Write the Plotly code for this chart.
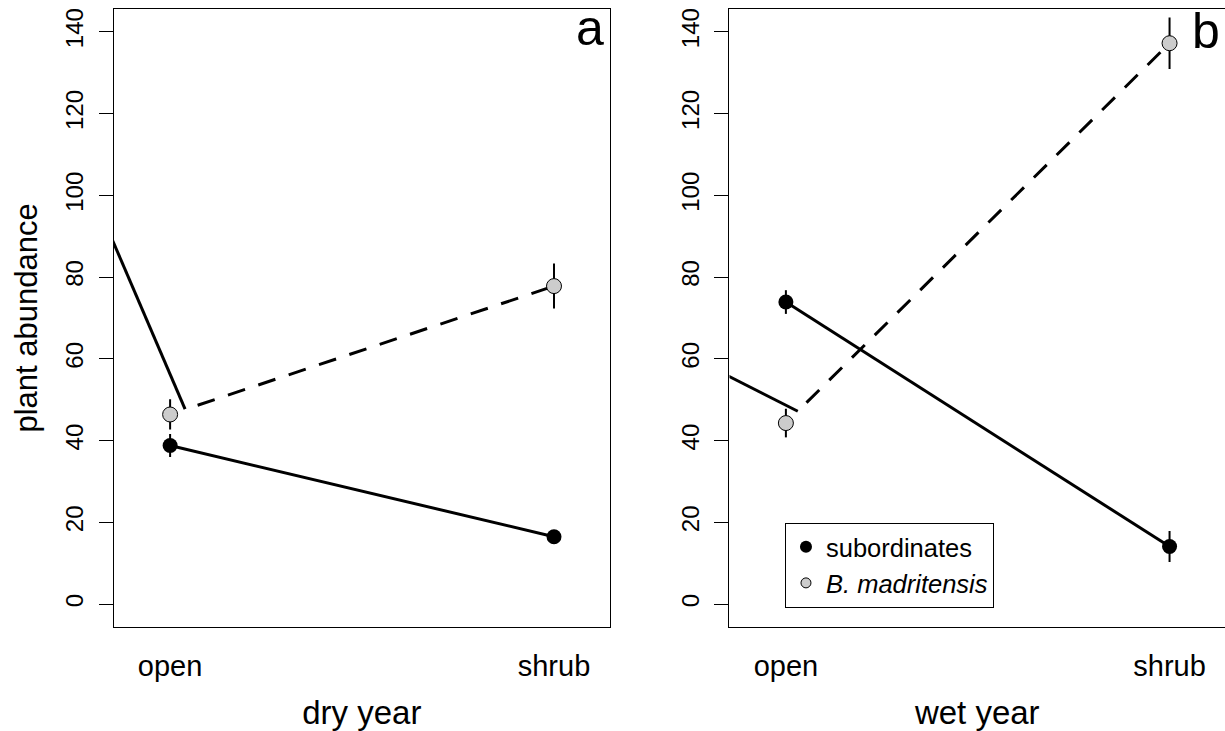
import plotly.graph_objects as go

# ---------------- data ----------------
sites = ["open", "shrub"]
site_pos = [1, 2]
y_ticks = [0, 20, 40, 60, 80, 100, 120, 140]

# dry year (panel a)
dry_sub = [38.8, 16.5]
dry_sub_err = [2.8, 1.5]
dry_bmad = [46.4, 77.8]
dry_bmad_err = [3.7, 5.5]
dry_seg_x = [0.85, 1.039]
dry_seg_y = [89.0, 47.7]

# wet year (panel b)
wet_sub = [73.9, 14.1]
wet_sub_err = [2.9, 3.8]
wet_bmad = [44.3, 137.2]
wet_bmad_err = [3.5, 6.3]
wet_seg_x = [0.85, 1.031]
wet_seg_y = [55.8, 47.2]

series_names = ["subordinates", "<i>B. madritensis</i>"]
panel_titles = ["dry year", "wet year"]
panel_letters = ["a", "b"]

# ---------------- style ----------------
FONT = "Liberation Sans, Arial, Helvetica, sans-serif"
GRAY = "#cccccc"
dash_pattern = "1px,28px," + ",".join(["18px,14px"] * 24)

fig = go.Figure()

panels = [
    (dry_sub, dry_sub_err, dry_bmad, dry_bmad_err, dry_seg_x, dry_seg_y, "x", "y"),
    (wet_sub, wet_sub_err, wet_bmad, wet_bmad_err, wet_seg_x, wet_seg_y, "x2", "y2"),
]

for sub, sub_e, bm, bm_e, sx, sy, xa, ya in panels:
    fig.add_trace(go.Scatter(x=sx, y=sy, mode="lines", xaxis=xa, yaxis=ya,
                             line=dict(color="black", width=3),
                             showlegend=False, hoverinfo="skip"))
    fig.add_trace(go.Scatter(x=site_pos, y=sub, mode="lines+markers", xaxis=xa, yaxis=ya,
                             line=dict(color="black", width=3),
                             marker=dict(color="black", size=15, symbol="circle"),
                             error_y=dict(type="data", array=sub_e, color="black",
                                          thickness=2, width=0),
                             showlegend=False))
    fig.add_trace(go.Scatter(x=site_pos, y=bm, mode="lines+markers", xaxis=xa, yaxis=ya,
                             line=dict(color="black", width=3, dash=dash_pattern),
                             marker=dict(color=GRAY, size=15, symbol="circle",
                                         line=dict(color="black", width=1)),
                             error_y=dict(type="data", array=bm_e, color="black",
                                          thickness=2, width=0),
                             showlegend=False))

# legend-only entries
fig.add_trace(go.Scatter(x=[None], y=[None], mode="markers", name=series_names[0],
                         marker=dict(color="black", size=12), xaxis="x2", yaxis="y2"))
fig.add_trace(go.Scatter(x=[None], y=[None], mode="markers", name=series_names[1],
                         marker=dict(color=GRAY, size=10, line=dict(color="black", width=1)),
                         xaxis="x2", yaxis="y2"))

ydom = [0.1427, 0.9873]
common_x = dict(tickvals=site_pos, ticktext=sites, ticks="", showgrid=False, zeroline=False,
                showline=True, linecolor="black", linewidth=1,
                tickfont=dict(size=29, color="black", family=FONT),
                ticklabelstandoff=14,
                title=dict(font=dict(size=33, color="black", family=FONT), standoff=19))
common_y = dict(range=[-5.5, 145.5], tickvals=y_ticks, ticks="outside", ticklen=14,
                tickwidth=1, tickcolor="black", tickangle=-90, showgrid=False,
                zeroline=False, showline=True, linecolor="black", linewidth=1,
                tickfont=dict(size=24, color="black", family=FONT), ticklabelstandoff=6)

fig.update_layout(
    width=1225, height=731, margin=dict(l=0, r=0, t=0, b=0),
    paper_bgcolor="white", plot_bgcolor="white",
    font=dict(family=FONT, color="black"),
    xaxis=dict(common_x, domain=[0.0928, 0.498], range=[0.853, 2.146], mirror=True,
               anchor="y", title_text=panel_titles[0]),
    yaxis=dict(common_y, domain=ydom, anchor="x", mirror=True,
               title=dict(text="plant abundance", standoff=14,
                          font=dict(size=31, color="black", family=FONT))),
    xaxis2=dict(common_x, domain=[0.5955, 1.0], range=[0.853, 2.1445], mirror=True,
                anchor="y2", title_text=panel_titles[1]),
    yaxis2=dict(common_y, domain=ydom, anchor="x2", mirror=False),
    legend=dict(x=0.6408, y=0.2850, xanchor="left", yanchor="top",
                bordercolor="black", borderwidth=1, bgcolor="white",
                font=dict(size=25.5, color="black", family=FONT),
                itemsizing="trace", tracegroupgap=0),
    showlegend=True,
)

fig.add_annotation(text=panel_letters[0], xref="paper", yref="paper", x=0.4946, y=1 - 28 / 731,
                   xanchor="right", yanchor="middle", showarrow=False,
                   font=dict(size=50, color="black", family=FONT))
fig.add_annotation(text=panel_letters[1], xref="paper", yref="paper", x=1222 / 1225, y=1 - 31 / 731,
                   xanchor="right", yanchor="middle", showarrow=False,
                   font=dict(size=50, color="black", family=FONT))

fig.write_html("out.html")
